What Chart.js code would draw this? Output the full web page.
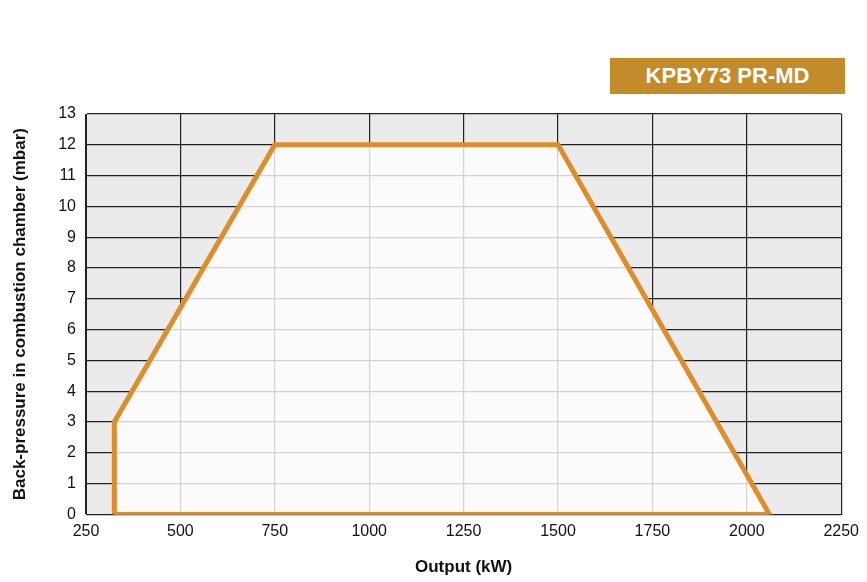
<!DOCTYPE html>
<html><head><meta charset="utf-8">
<script src="https://cdn.jsdelivr.net/npm/chart.js@4"></script>
<style>
body{margin:0;background:#fff;font-family:"Liberation Sans",Arial,sans-serif}
#wrap{position:relative;width:867px;height:582px}
#badge{position:absolute;left:610px;top:58px;width:235px;height:36px;background:#c48b2b;color:#fff;font-weight:bold;font-size:22px;line-height:36px;text-align:center}
</style></head><body>
<div id="wrap"><canvas id="c" width="867" height="582"></canvas><div id="badge">KPBY73 PR-MD</div></div>
<script>
const outputKW = [325, 325, 750, 1500, 2060, 325];
const pressureMbar = [0, 3, 12, 12, 0, 0];
const xTicks = [250,500,750,1000,1250,1500,1750,2000,2250];
const yMax = 13;

const bgPlugin = {id:'bg',
beforeDraw(ch){const a=ch.chartArea,c=ch.ctx;c.save();c.fillStyle='#ebebeb';c.fillRect(a.left,a.top,a.right-a.left,a.bottom-a.top);c.restore();},
beforeDatasetsDraw(ch){const c=ch.ctx,sx=ch.scales.x,sy=ch.scales.y;c.save();c.beginPath();
outputKW.forEach((x,i)=>{const px=sx.getPixelForValue(x),py=sy.getPixelForValue(pressureMbar[i]);i?c.lineTo(px,py):c.moveTo(px,py);});
c.closePath();c.fillStyle='rgba(255,255,255,0.8)';c.fill();c.restore();}};
new Chart(document.getElementById('c'),{
type:'scatter',
data:{datasets:[{data:outputKW.map((x,i)=>({x,y:pressureMbar[i]})),showLine:true,borderColor:'#dd8d2c',borderWidth:5,pointRadius:0,fill:false,tension:0,borderJoinStyle:'miter'}]},
options:{responsive:false,animation:false,
layout:{padding:{left:6,right:20,top:114,bottom:4}},
plugins:{legend:{display:false},tooltip:{enabled:false}},
scales:{
x:{type:'linear',min:250,max:2250,afterBuildTicks(s){s.ticks=xTicks.map(v=>({value:v}));},
grid:{color:'#222',lineWidth:1.2,drawTicks:false},border:{color:'#222'},
ticks:{color:'#111',font:{size:16},padding:8,callback:v=>String(v)},
title:{display:true,text:'Output (kW)',color:'#111',font:{size:17,weight:'bold'},padding:{top:8,bottom:0}}},
y:{min:0,max:yMax,afterFit(s){s.width=80;},ticks:{stepSize:1,color:'#111',font:{size:16},padding:10},
grid:{color:'#222',lineWidth:1.2,drawTicks:false},border:{color:'#222'},
title:{display:true,text:'Back-pressure in combustion chamber (mbar)',color:'#111',font:{size:17,weight:'bold'},padding:{bottom:4}}}
}},
plugins:[bgPlugin]
});
</script></body></html>
